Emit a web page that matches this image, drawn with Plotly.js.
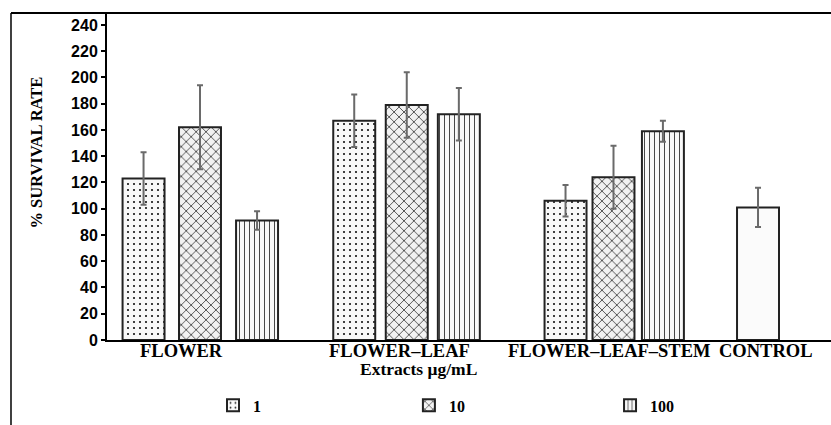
<!DOCTYPE html>
<html>
<head>
<meta charset="utf-8">
<script src="https://cdn.plot.ly/plotly-3.0.1.min.js"></script>
<style>html,body{margin:0;padding:0;background:#fff;}#chart{width:831px;height:425px;}</style>
</head>
<body>
<div id="chart"></div>
<script>
// ---- data ----
const categories = ["FLOWER", "FLOWER–LEAF", "FLOWER–LEAF–STEM", "CONTROL"];
const extractGroups = ["FLOWER", "FLOWER–LEAF", "FLOWER–LEAF–STEM"];
const seriesNames = ["1", "10", "100"];
const values1 = [123, 167, 106];
const errors1 = [20, 20, 12];
const values10 = [162, 179, 124];
const errors10 = [32, 25, 24];
const values100 = [91, 172, 159];
const errors100 = [7, 20, 8];
const controlLabel = ["CONTROL"];
const controlValue = [101];
const controlError = [15];
const yTickVals = [0, 20, 40, 60, 80, 100, 120, 140, 160, 180, 200, 220, 240];
const yTitle = "% SURVIVAL RATE";
const xTitle = "Extracts μg/mL";

// ---- styling ----
const SERIF = "Liberation Serif, Times New Roman, serif";
const SANS = "Liberation Sans, Arial, sans-serif";
const barW = 0.203;
const lineStyle = {color: "#222", width: 2};
const errStyle = (arr) => ({type: "data", array: arr, visible: true, color: "#6a6a6a", thickness: 2, width: 3});

const shift1 = [-0.273, -0.254, -0.232];
const shift100 = [0.276, 0.252, 0.239];

const traces = [
  {
    type: "bar", name: seriesNames[0], x: extractGroups, y: values1,
    error_y: errStyle(errors1),
    width: barW, offset: shift1.map(s => s - barW / 2),
    marker: {color: "white", line: lineStyle,
      pattern: {shape: ".", size: 6, solidity: 0.1, fgcolor: "#111", bgcolor: "#f8f8f8"}},
    legend: "legend"
  },
  {
    type: "bar", name: seriesNames[1], x: extractGroups, y: values10,
    error_y: errStyle(errors10),
    width: barW, offset: -barW / 2,
    marker: {color: "white", line: lineStyle,
      pattern: {shape: "x", size: 7, solidity: 0.2, fgcolor: "#222", bgcolor: "#f2f2f2"}},
    legend: "legend2"
  },
  {
    type: "bar", name: seriesNames[2], x: extractGroups, y: values100,
    error_y: errStyle(errors100),
    width: barW, offset: shift100.map(s => s - barW / 2),
    marker: {color: "white", line: lineStyle,
      pattern: {shape: "|", size: 5, solidity: 0.18, fgcolor: "#333", bgcolor: "#f8f8f8"}},
    legend: "legend3"
  },
  {
    type: "bar", name: "CONTROL", x: controlLabel, y: controlValue,
    error_y: errStyle(controlError),
    width: barW, offset: -0.301 - barW / 2,
    marker: {color: "#fbfbfb", line: lineStyle},
    showlegend: false
  }
];

const labelShift = {"FLOWER": -19, "FLOWER–LEAF": -7, "FLOWER–LEAF–STEM": -4, "CONTROL": -54};

const annotations = categories.map(c => ({
  x: c, xref: "x", y: 0, yref: "paper", yanchor: "top", xanchor: "center",
  yshift: 1, xshift: labelShift[c], showarrow: false,
  text: "<b>" + c + "</b>", font: {family: SERIF, size: 18.5, color: "#000"}
}));
annotations.push({
  x: 0.43, xref: "paper", y: -0.09, yref: "paper", xanchor: "center", yanchor: "middle",
  showarrow: false, text: "<b>" + xTitle + "</b>", font: {family: SERIF, size: 17.5, color: "#000"}
});
annotations.push({
  x: -0.0967, xref: "paper", y: 0.573, yref: "paper", xanchor: "center", yanchor: "middle",
  textangle: -90, showarrow: false, text: "<b>" + yTitle + "</b>",
  font: {family: SERIF, size: 16.5, color: "#000"}
});

const legendBase = {
  orientation: "h", yanchor: "middle", xanchor: "left", y: -0.2,
  font: {family: SERIF, size: 16, color: "#000", weight: "bold"},
  bgcolor: "rgba(0,0,0,0)", borderwidth: 0
};

const layout = {
  width: 831, height: 425,
  margin: {l: 107, r: 0, t: 13, b: 85},
  paper_bgcolor: "white", plot_bgcolor: "white",
  barmode: "overlay",
  showlegend: true,
  legend: Object.assign({}, legendBase, {x: 0.1464}),
  legend2: Object.assign({}, legendBase, {x: 0.417}),
  legend3: Object.assign({}, legendBase, {x: 0.6948}),
  xaxis: {
    type: "category", categoryorder: "array", categoryarray: categories,
    range: [-0.4498, 3.052], showticklabels: false, ticks: "",
    showline: true, linecolor: "#000", linewidth: 2, showgrid: false, zeroline: false,
    fixedrange: true
  },
  yaxis: {
    range: [0, 249.1], tickvals: yTickVals, ticks: "outside", ticklen: 4, tickwidth: 2,
    tickcolor: "#000", showline: true, linecolor: "#000", linewidth: 2,
    showgrid: false, zeroline: false,
    tickfont: {family: SANS, size: 16, color: "#000", weight: "bold"},
    fixedrange: true
  },
  annotations: annotations,
  shapes: [
    {type: "line", xref: "paper", yref: "paper", x0: -0.1326, x1: -0.1326, y0: 1, y1: -0.27,
     line: {color: "#000", width: 1.5}},
    {type: "line", xref: "paper", yref: "paper", x0: -0.1326, x1: 1, y0: 1, y1: 1,
     line: {color: "#000", width: 2}}
  ]
};

Plotly.newPlot("chart", traces, layout, {displayModeBar: false, staticPlot: true});
</script>
</body>
</html>
